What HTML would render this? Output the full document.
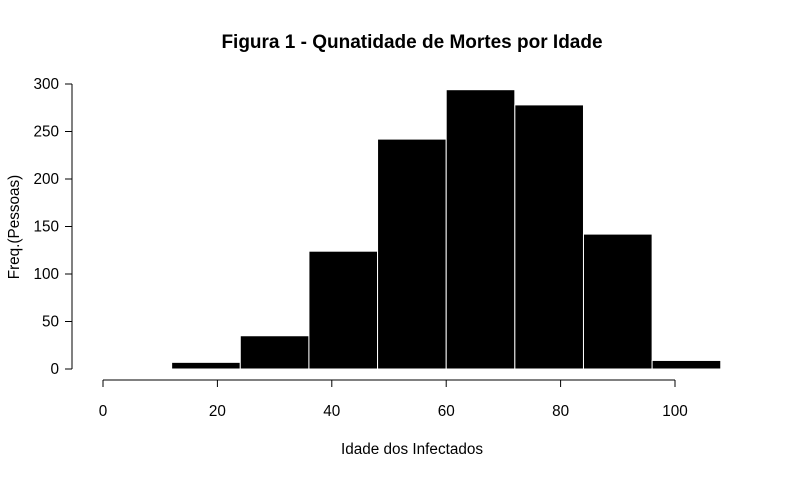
<!DOCTYPE html>
<html><head><meta charset="utf-8"><style>
html,body{margin:0;padding:0;background:#fff;}
svg text{font-family:"Liberation Sans",Arial,sans-serif;fill:#000;}
</style></head><body>
<svg id="chart" width="786" height="478" viewBox="0 0 786 478" xmlns="http://www.w3.org/2000/svg">
<text x="412" y="48" text-anchor="middle" font-size="19" font-weight="bold">Figura 1 - Qunatidade de Mortes por Idade</text>
<text x="412" y="454" text-anchor="middle" font-size="15.3">Idade dos Infectados</text>
<text transform="translate(19,227) rotate(-90)" text-anchor="middle" font-size="15.3">Freq.(Pessoas)</text>
<g id="bars"></g>
<g id="xaxis"></g>
<g id="yaxis"></g>
</svg>
<script>
const binEdges = [12, 24, 36, 48, 60, 72, 84, 96, 108];
const counts = [7, 35, 124, 242, 294, 278, 142, 9];
const xTicks = [0, 20, 40, 60, 80, 100];
const yTicks = [0, 50, 100, 150, 200, 250, 300];

const NS = "http://www.w3.org/2000/svg";
function xs(v){ return 103 + v * 5.72; }
function ys(v){ return 369 - v * 0.95; }
function mk(tag, attrs, parent){
  const e = document.createElementNS(NS, tag);
  for (const k in attrs) e.setAttribute(k, attrs[k]);
  parent.appendChild(e);
  return e;
}
const bars = document.getElementById('bars');
counts.forEach((c, i) => {
  const x0 = xs(binEdges[i]), x1 = xs(binEdges[i+1]);
  const r = mk('rect', {x: x0, y: ys(c), width: x1 - x0, height: ys(0) - ys(c), fill: '#000', stroke: '#fff', 'stroke-width': 1}, bars);
  
  
});
const xa = document.getElementById('xaxis');
mk('line', {x1: xs(xTicks[0]), x2: xs(xTicks[xTicks.length-1]), y1: 380, y2: 380, stroke: '#000'}, xa);
xTicks.forEach(t => {
  mk('line', {x1: xs(t), x2: xs(t), y1: 380, y2: 387, stroke: '#000'}, xa);
  const tx = mk('text', {x: xs(t), y: 416, 'text-anchor': 'middle', 'font-size': 15.3}, xa);
  tx.textContent = t;
  
  
});
const ya = document.getElementById('yaxis');
mk('line', {x1: 72, x2: 72, y1: ys(yTicks[0]), y2: ys(yTicks[yTicks.length-1]), stroke: '#000'}, ya);
yTicks.forEach(t => {
  mk('line', {x1: 65, x2: 72, y1: ys(t), y2: ys(t), stroke: '#000'}, ya);
  const tx = mk('text', {x: 59, y: ys(t) + 5, 'text-anchor': 'end', 'font-size': 15.3}, ya);
  tx.textContent = t;
  
  
});
</script>
</body></html>
